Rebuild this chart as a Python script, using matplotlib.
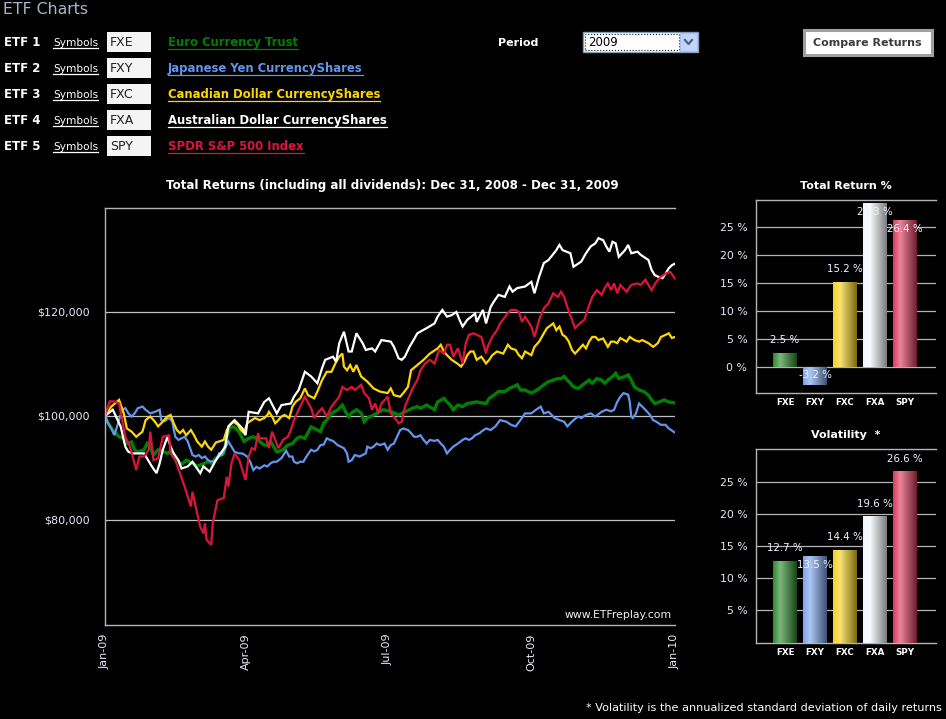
import numpy as np
import pandas as pd
import matplotlib
matplotlib.use("Agg")
import matplotlib.pyplot as plt
import matplotlib.dates as mdates
from matplotlib.patches import Rectangle
from matplotlib.lines import Line2D
from matplotlib.colors import to_rgb
from matplotlib.ticker import FuncFormatter

# ---------------- data ----------------
tickers = ["FXE", "FXY", "FXC", "FXA", "SPY"]
names = ["Euro Currency Trust", "Japanese Yen CurrencyShares",
         "Canadian Dollar CurrencyShares", "Australian Dollar CurrencyShares",
         "SPDR S&P 500 Index"]
line_colors = ["#008000", "#6495ED", "#FFD700", "#FFFFFF", "#DC143C"]
bar_colors = ["#2e8b2e", "#7ea3ea", "#f5d21f", "#f2f6fc", "#dc3a5c"]
total_return = [2.5, -3.2, 15.2, 29.3, 26.4]
volatility = [12.7, 13.5, 14.4, 19.6, 26.6]
period_label = "2009"
start_date = "2009-01-01"
x_tick_dates = ["2009-01-01", "2009-04-01", "2009-07-01", "2009-10-01", "2010-01-01"]
y_ticks = [80000, 100000, 120000]

# days since Jan 1 2009, growth of $100k in thousands of dollars
fxe_days = [0,2,5,9,12,14,17,19,21,25,27,29,31,34,37,40,42,45,48,50,52,56,59,61,64,66,68,71,73,76,
            78,80,82,85,87,89,92,95,97,99,102,104,106,108,110,112,114,117,120,123,125,128,132,134,138,140,142,145,149,152,
            154,156,158,161,164,166,168,170,174,178,183,188,192,197,200,202,206,211,213,217,219,221,223,226,229,232,238,244,246,249,
            252,256,259,264,266,269,273,275,278,281,284,287,290,292,294,296,298,300,303,306,310,312,315,318,320,322,325,327,329,333,
            335,337,339,342,345,348,350,352,355,358,361,365]
fxe_vals = [100,98.6,97.3,96,95.7,94.7,95,93.5,93.1,93.5,94.7,94.1,92.5,93.5,93.2,92.8,93.2,91.9,90.9,90.9,
            91.5,90.9,90.3,90.6,90.9,91.3,90.9,91.9,92.2,92.8,96,97.6,98,97.3,96.3,95.1,95.7,96,95.7,95.1,
            94.4,94.4,95.1,94.1,93.1,93.3,93.5,94.4,94.7,95.7,96,95.7,97.9,97.6,97,98.6,99.2,100.5,101.2,102.1,
            100.8,99.9,100.6,101.2,100.6,98.9,99.6,99.9,100.5,101.2,100.9,100.2,100.8,101.5,101.8,101.5,102.1,101.2,102.7,103.4,
            102.7,102.1,101.2,102.1,101.8,102.4,102.7,102.4,103.4,104,104.7,104.7,105.3,106,105,105,104.4,104.7,105.3,106,
            106.6,106.9,107.2,107.2,107.6,106.9,106.3,105.6,105.3,106,106.9,106.3,107.2,106.9,106.3,106.9,107.6,108.2,107.2,107.6,
            107.9,106.9,105.6,105,104.7,104,103.1,102.4,102.7,103.1,102.7,102.5]

fxy_days = [0,2,4,6,9,11,13,15,17,19,21,24,26,29,32,35,36,38,41,43,45,47,49,51,53,56,58,60,62,64,
            66,68,71,73,75,77,79,81,83,86,88,91,93,95,97,99,102,104,106,108,110,113,116,118,120,121,123,125,127,129,
            132,134,136,138,140,142,144,146,149,151,153,155,156,158,160,163,165,167,168,170,172,174,176,179,181,183,185,187,189,191,
            194,196,198,200,202,204,206,208,211,213,215,217,219,221,223,226,229,231,233,235,237,240,241,244,247,250,253,257,260,263,
            266,269,273,276,279,281,284,288,291,294,296,298,300,303,305,308,311,314,318,321,324,326,328,330,332,335,336,337,338,340,
            342,344,346,349,351,353,356,359,361,365]
fxy_vals = [100,98.6,97.6,96.3,99.2,101.2,101.5,100.5,99.9,100.5,101.5,101.8,101.2,100.5,100.8,101.2,99.2,99,99.6,99,
            96,95.4,95.7,96,95.1,92.5,92.2,92.5,91.9,92.2,91.5,91.2,91.5,92.8,92.5,93.8,95.1,94.1,93.1,92.8,
            92.8,92.2,91.2,89.6,90.2,89.9,90.5,90.3,90.9,91.2,91.2,91.9,93.3,92.2,92.2,91.2,90.9,91.2,91.2,92.2,
            93.5,93.2,93.5,94.4,94.5,95.7,95.4,95.2,94.4,94.1,93.8,92.8,91.2,91.5,92.5,92.2,92.5,92.8,94.1,93.8,
            94.1,94.7,94.4,94.7,93.5,94.4,94.7,96,97.3,97.6,97.3,96.7,96,96,96.3,95.4,94.7,95.4,95.2,95.4,
            94.7,94.1,92.8,93.5,94.1,94.7,95.4,95.7,95.4,95.7,96.3,96.7,97,97.6,97.3,98,99.2,98.9,98.3,98,
            99.2,100.5,100.5,101.2,101.8,100.5,100.8,99.6,99.2,98.9,98,98.6,99.2,99.9,99.6,100.2,100.5,99.9,100.8,101.2,
            100.9,101.2,102.7,103.7,104.4,104.1,102.7,99.9,99.6,100.5,102.4,101.8,101.2,100.2,99.2,98.9,98.3,98.3,97.6,96.8]

fxc_days = [0,4,9,12,14,17,20,24,26,29,32,34,36,40,42,44,46,48,50,52,55,57,59,62,64,66,68,71,73,76,
            78,80,82,85,87,89,91,94,96,99,102,104,105,107,109,111,113,115,118,120,122,125,128,130,134,136,139,142,145,148,
            150,152,153,155,157,159,161,164,168,172,176,181,183,185,189,191,194,196,200,204,208,213,215,217,219,222,226,228,230,232,
            234,236,238,241,244,246,248,251,255,258,260,263,265,267,269,273,275,278,281,283,287,289,291,293,295,297,299,301,304,306,
            308,310,312,314,316,319,322,324,326,328,330,334,336,339,342,344,348,351,354,356,359,361,363,365]
fxc_vals = [100,101.8,103.1,100.5,97.6,97,96,97,99.2,99.9,98.9,98,98.6,99.9,100.2,98.6,97.3,96.7,97.3,96.3,
            97.3,96.3,95.1,94.1,95.1,94.1,93.5,94.9,95.1,95.4,97.3,98.3,98.9,98.3,97.3,96.7,98.6,99.2,99.6,99.2,
            99.6,100.2,100.8,99.9,98.6,99.2,99.9,100.2,99.6,101.8,102.7,103.4,105.3,104,103.4,104.7,106.9,108.5,108.5,110.4,
            111.4,112,109.5,108.8,109.8,108.5,109.8,107.6,106.6,105.3,104.7,104.4,105.3,104,103.7,104.4,105.6,108.8,109.8,110.8,
            112,113,113.7,112.4,111.7,110.8,110,109.5,110.4,111.7,112.4,112.4,110.8,111.4,110.1,110.8,111.7,112.4,112,113.7,
            113,112.7,111.7,111.1,112.4,111.7,113.3,114.3,115.9,116.9,117.8,116.5,117.2,115.6,115.2,114.3,112.7,112,113,113.7,
            113,114.3,115.2,115.2,114.6,114.9,113.3,114.3,114.3,114,115,114.3,115.2,114.6,114.3,114.6,114,113.3,114,115.2,
            115.6,115.9,115,115.2]

fxa_days = [0,5,10,13,15,18,25,30,33,35,37,40,42,44,47,49,53,56,61,63,67,71,77,79,83,88,90,92,98,102,
            105,110,113,119,121,124,128,132,136,139,141,146,148,150,153,156,158,161,165,167,171,173,177,183,185,188,190,192,195,197,
            200,206,211,213,216,219,222,225,227,229,232,237,238,242,244,247,249,252,256,259,261,264,269,273,275,278,281,284,289,291,
            293,298,300,305,308,311,314,316,319,321,323,325,327,329,333,335,337,341,343,348,350,352,354,357,359,361,363,365]
fxa_vals = [100,101.2,98,94.1,93.1,92.8,92.8,90.3,89,90.9,93.5,96,94.1,92.8,91.5,89.9,90.3,91.2,89,90.3,
            89.3,91.5,94.1,98,99.2,97.6,96.3,100.8,100.5,102.7,103.4,100.5,102.1,102.4,103.7,105,108.5,107.6,106.3,109.2,
            110.8,111.4,110.4,114,116.2,112.4,112.4,115.9,114,112.7,113,112.4,114.6,114.3,113.3,111.1,110.8,111.4,113.3,114.3,
            115.9,116.9,117.8,119.1,120.4,119.1,119.4,120,118.5,117.2,118.5,119.7,118.1,120.4,117.8,121,122,123.3,122.9,124.9,
            123.9,124.6,124.9,125.8,123.6,126.8,129.4,130,131.9,132.9,131.9,131.3,128.7,129.7,131.3,132.6,133.2,134.2,133.8,132.6,
            131.6,133.5,133.2,130.6,131.9,132.9,131.3,131.6,131,130,128.1,127.1,126.8,126.5,127.4,128.4,129,129.3]

spy_days = [0,3,6,9,13,16,20,22,25,28,29,31,34,37,41,42,45,48,51,55,56,59,61,63,64,65,68,69,72,76,
            78,79,81,83,86,88,90,92,94,96,98,99,103,105,107,109,111,114,117,119,121,124,128,132,134,136,139,142,145,150,
            152,155,158,160,164,166,169,171,173,175,177,181,183,185,188,190,192,197,200,202,205,208,211,214,217,219,221,223,226,229,
            231,233,236,241,244,245,248,251,253,258,260,263,265,267,269,273,275,278,281,284,287,290,292,294,296,299,301,304,307,309,
            312,315,318,320,322,324,326,328,330,334,337,341,343,346,350,353,356,359,362,365]
spy_vals = [100,102.8,102.8,102.4,96,94.1,89.6,92.2,92.2,93.5,97,91.5,91.9,96,96.3,92.8,91.5,89,86.4,82.6,
            85.4,81.3,78.7,77.4,79.4,76.2,75.2,79.4,83.8,84.2,88.3,86.4,90.9,92.8,91.5,89.6,87.7,92.2,93.8,93.5,
            96.7,95.7,95.7,93.8,97,95.4,93.8,95.4,96,97.3,99.2,101.2,103.7,101.5,99.6,100.5,101.5,99.9,101.8,103.7,
            105.6,105,105.6,105,106,104.4,103.4,101.2,102.4,100.5,102.4,103.7,100.5,99.9,98.6,98.9,101.8,105.3,106.9,108.8,
            110.1,110.8,110.1,112.7,112,113.7,113.7,111.4,113,110.1,114,115.6,115.9,115.2,112,113.3,115.2,116.5,117.8,119.8,
            120.4,120.4,120,118.1,119.1,117.2,115.2,118.5,120.7,121.7,123.6,122.9,123.9,122.9,121,118.5,116.9,117.8,118.5,120.4,
            122.9,124.2,123.3,124.6,125.5,124.2,125.5,123.6,125.2,123.9,125.2,125.5,125.2,126.2,124.2,125.8,126.8,127.4,127.7,126.4]

series_days = [fxe_days, fxy_days, fxc_days, fxa_days, spy_days]
series_vals = [fxe_vals, fxy_vals, fxc_vals, fxa_vals, spy_vals]

# ---------------- figure ----------------
W, H = 946, 719
plt.rcParams["font.family"] = ["DejaVu Sans"]
fig = plt.figure(figsize=(W / 100, H / 100), dpi=100, facecolor="black")


def fx(x):
    return x / W


def fy(y):
    return 1 - y / H


def box(x0, y0, x1, y1, **kw):
    r = Rectangle((fx(x0), fy(y1)), (x1 - x0) / W, (y1 - y0) / H,
                  transform=fig.transFigure, **kw)
    fig.add_artist(r)
    return r


renderer = fig.canvas.get_renderer()


def underline(t, y, color):
    bb = t.get_window_extent(renderer)
    fig.add_artist(Line2D([bb.x0 / W, bb.x1 / W], [fy(y), fy(y)],
                          transform=fig.transFigure, color=color, lw=0.9))


# header
fig.text(fx(3), fy(10), "ETF Charts", fontsize=11.3, color="#a8b8cc",
         va="center", ha="left")
for i, (tk, nm, c) in enumerate(zip(tickers, names, line_colors)):
    yc = 42.5 + 26 * i
    fig.text(fx(3.5), fy(yc), f"ETF {i + 1}", fontsize=8.5, fontweight="bold",
             color="white", va="center", ha="left")
    t = fig.text(fx(53), fy(yc + 1), "Symbols", fontsize=7.6, color="white",
                 va="center", ha="left")
    underline(t, yc + 5.5, "white")
    box(107, yc - 10.5, 151, yc + 9.5, facecolor="#f4f4f4", edgecolor="none")
    fig.text(fx(110), fy(yc), tk, fontsize=9, color="#202020",
             va="center", ha="left")
    t = fig.text(fx(168), fy(yc), nm, fontsize=8.4, fontweight="bold", color=c,
                 va="center", ha="left")
    underline(t, yc + 6.5, c)

fig.text(fx(498), fy(42.5), "Period", fontsize=8, fontweight="bold",
         color="white", va="center", ha="left")
box(583, 32.3, 698, 51.7, facecolor="white", edgecolor="#7f9db9", lw=1)
box(584.5, 34, 679, 50, facecolor="none", edgecolor="#202020", lw=0.8, ls=":")
fig.text(fx(588), fy(42.5), period_label, fontsize=8.5, color="black",
         va="center", ha="left")
box(680, 33.3, 697, 50.7, facecolor="#c3d5fc", edgecolor="#a8bff0", lw=0.8)
fig.add_artist(Line2D([fx(685), fx(688.5), fx(692)], [fy(40), fy(44), fy(40)],
                      transform=fig.transFigure, color="#4d6185", lw=1.6))

box(804, 30.3, 931.7, 55, facecolor="white", edgecolor="#a0a0a0", lw=2.2)
fig.text(fx(867.8), fy(43), "Compare Returns", fontsize=8, fontweight="bold",
         color="#3c3c3c", va="center", ha="center")

# ---------------- main line chart ----------------
L, R, T, B = 105, 675, 208, 625
ax = fig.add_axes([fx(L), fy(B), (R - L) / W, (B - T) / H])
ax.set_facecolor("black")
t0 = pd.Timestamp(start_date)
widths = [2.4, 1.6, 1.6, 1.6, 1.6]
for d, v, c, lw in zip(series_days, series_vals, line_colors, widths):
    dates = t0 + pd.to_timedelta(np.array(d), unit="D")
    ax.plot(dates, np.array(v) * 1000, color=c, lw=lw, solid_joinstyle="miter")

ax.set_xlim(pd.Timestamp(x_tick_dates[0]), pd.Timestamp(x_tick_dates[-1]))
ax.set_ylim(59800, 140000)
ax.set_yticks(y_ticks)
ax.yaxis.set_major_formatter(FuncFormatter(lambda v, p: f"${v:,.0f}"))
ax.set_xticks([pd.Timestamp(s) for s in x_tick_dates])
ax.xaxis.set_major_formatter(mdates.DateFormatter("%b-%y"))
ax.tick_params(axis="y", length=0, pad=11, labelsize=8, labelcolor="#e4ecf6")
ax.tick_params(axis="x", length=0, pad=6, labelsize=8, labelcolor="#e4ecf6",
               labelrotation=90)
ax.grid(axis="y", color="#c0c0c0", lw=0.9)
ax.grid(axis="x", visible=False)
for s in ["left", "top", "bottom"]:
    ax.spines[s].set_color("#b4b4b4")
    ax.spines[s].set_linewidth(1.0)
ax.spines["right"].set_visible(False)
ax.set_axisbelow(True)
ax.text(0.995, 0.025, "www.ETFreplay.com", transform=ax.transAxes, ha="right",
        va="center", fontsize=7.8, color="#f0f0f0")

fig.text(fx((L + R) / 2 + 2), fy(186),
         "Total Returns (including all dividends): Dec 31, 2008 - Dec 31, 2009",
         fontsize=8.6, fontweight="bold", color="white", ha="center", va="center")


# ---------------- bar charts ----------------
def gradient(color):
    base = np.array(to_rgb(color))
    light = base + (1 - base) * 0.38
    dark = base * 0.5
    t = np.linspace(0, 1, 64)
    keys_t = [0, 0.3, 1.0]
    cols = np.stack([np.interp(t, keys_t, [base[k], light[k], dark[k]])
                     for k in range(3)], axis=-1)
    return cols[np.newaxis, :, :]


def bar_chart(rect_px, values, ylim, title, title_y):
    l, t, r, b = rect_px
    bx = fig.add_axes([fx(l), fy(b), (r - l) / W, (b - t) / H])
    bx.set_facecolor("black")
    xs = np.arange(len(values))
    bars = bx.bar(xs, values, width=0.8, color=bar_colors, zorder=2)
    for rect, c in zip(bars, bar_colors):
        x0 = rect.get_x()
        x1 = x0 + rect.get_width()
        y0 = rect.get_y()
        y1 = y0 + rect.get_height()
        im = bx.imshow(gradient(c), extent=(x0, x1, min(y0, y1), max(y0, y1)),
                       aspect="auto", interpolation="bilinear", zorder=3)
        im.set_clip_path(rect)
    bx.set_xlim(-0.98, 5.03)
    bx.set_ylim(*ylim)
    ticks = [v for v in range(0, 30, 5) if ylim[0] < v < ylim[1]]
    bx.set_yticks(ticks)
    bx.set_yticklabels([f"{v} %" for v in ticks])
    bx.set_xticks(xs)
    bx.set_xticklabels(tickers)
    bx.tick_params(axis="y", length=0, pad=6, labelsize=7.8, labelcolor="#e4ecf6")
    bx.tick_params(axis="x", length=0, pad=4, labelsize=6.3, labelcolor="white")
    for lab in bx.get_xticklabels():
        lab.set_fontweight("bold")
    bx.grid(axis="y", color="#b4b4b4", lw=0.9)
    bx.grid(axis="x", visible=False)
    bx.set_axisbelow(True)
    for s in ["left", "top", "bottom"]:
        bx.spines[s].set_color("#b4b4b4")
        bx.spines[s].set_linewidth(1.0)
    bx.spines["right"].set_visible(False)
    # value labels
    ppu = (b - t) / (ylim[1] - ylim[0])
    prev = None
    for i, v in enumerate(values):
        if v < 0:
            y = v + 10 / ppu
        else:
            y = v + 12.6 / ppu
            if (ylim[1] - y) * ppu < 6 or (prev is not None and abs(y - prev) * ppu < 11):
                y = v - 9 / ppu
        bx.text(i, y, f"{v:.1f} %", ha="center", va="center", fontsize=7.4,
                color="#eef4ff", zorder=5)
        prev = y
    fig.text(fx((l + r) / 2), fy(title_y), title, fontsize=8, fontweight="bold",
             color="white", ha="center", va="center")
    return bx


bar_chart((755.7, 200, 936, 392.7), total_return, (-4.66, 29.9), "Total Return %", 186)
bar_chart((755.7, 449.3, 936, 642.5), volatility, (0, 30.0), "Volatility  *", 435)

fig.text(fx(942), fy(708),
         "* Volatility is the annualized standard deviation of daily returns",
         fontsize=8.1, color="white", ha="right", va="center")

fig.savefig("out.png", dpi=100, facecolor="black")
